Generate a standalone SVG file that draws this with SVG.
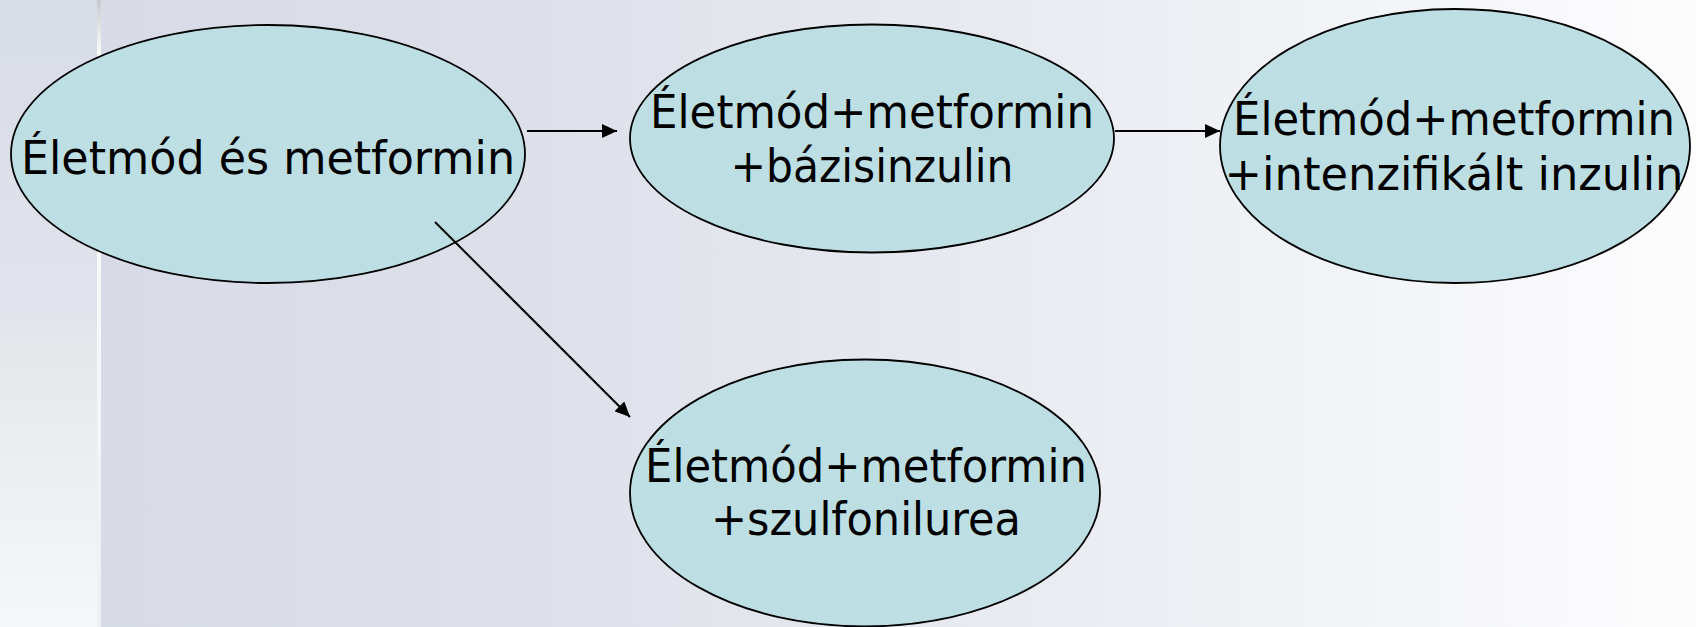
<svg xmlns="http://www.w3.org/2000/svg" width="1696" height="627" viewBox="0 0 1696 627">
  <defs>
    <linearGradient id="bgMain" x1="0" y1="0" x2="1" y2="0">
      <stop offset="0" stop-color="#d6dae5"/>
      <stop offset="0.3" stop-color="#dde0e9"/>
      <stop offset="0.6" stop-color="#e9ebf1"/>
      <stop offset="0.85" stop-color="#f5f6f9"/>
      <stop offset="1" stop-color="#fdfdfe"/>
    </linearGradient>
    <linearGradient id="bgLeft" x1="0" y1="0" x2="0" y2="1">
      <stop offset="0" stop-color="#d8dce6"/>
      <stop offset="0.5" stop-color="#e1e4ec"/>
      <stop offset="0.53" stop-color="#e4e6eb"/>
      <stop offset="1" stop-color="#f6f7f8"/>
    </linearGradient>
    <linearGradient id="stripe" x1="0" y1="0" x2="0" y2="1">
      <stop offset="0" stop-color="#c9cacf"/>
      <stop offset="0.09" stop-color="#ffffff"/>
      <stop offset="1" stop-color="#eeeff2"/>
    </linearGradient>
    <marker id="arrow" markerUnits="userSpaceOnUse" markerWidth="16" markerHeight="14" refX="15" refY="7" orient="auto">
      <path d="M0,0 L15,7 L0,14 z" fill="#000"/>
    </marker>
    <style>
      .node ellipse { fill: #bddfe3; stroke: #000; stroke-width: 1.8; }
      .node text { font-family: "DejaVu Sans", "Liberation Sans", sans-serif; font-size: 47px; fill: #000; text-anchor: middle; }
      .conn line { stroke: #000; stroke-width: 2; marker-end: url(#arrow); }
    </style>
  </defs>

  <rect x="0" y="0" width="1696" height="627" fill="url(#bgMain)"/>
  <rect x="0" y="0" width="97" height="627" fill="url(#bgLeft)"/>
  <rect x="97" y="0" width="4" height="627" fill="url(#stripe)"/>

  <g id="n1" class="node">
    <ellipse cx="268" cy="154" rx="257" ry="129"/>
    <text x="268" y="174" textLength="494" lengthAdjust="spacingAndGlyphs">Életmód és metformin</text>
  </g>

  <g id="n2" class="node">
    <ellipse cx="872" cy="138.5" rx="242" ry="114"/>
    <text x="872" y="128" textLength="444" lengthAdjust="spacingAndGlyphs">Életmód+metformin</text>
    <text x="872" y="182" textLength="283" lengthAdjust="spacingAndGlyphs">+bázisinzulin</text>
  </g>

  <g id="n3" class="node">
    <ellipse cx="1455" cy="146" rx="235" ry="137"/>
    <text x="1454" y="135" textLength="442" lengthAdjust="spacingAndGlyphs">Életmód+metformin</text>
    <text x="1454" y="190" textLength="459" lengthAdjust="spacingAndGlyphs">+intenzifikált inzulin</text>
  </g>

  <g id="n4" class="node">
    <ellipse cx="865" cy="493" rx="235" ry="133.5"/>
    <text x="866" y="482" textLength="442" lengthAdjust="spacingAndGlyphs">Életmód+metformin</text>
    <text x="866" y="535" textLength="310" lengthAdjust="spacingAndGlyphs">+szulfonilurea</text>
  </g>

  <g id="connectors" class="conn">
    <line x1="527" y1="131" x2="617" y2="131"/>
    <line x1="1115" y1="131" x2="1220" y2="131"/>
    <line x1="435" y1="222" x2="630" y2="417"/>
  </g>
</svg>
